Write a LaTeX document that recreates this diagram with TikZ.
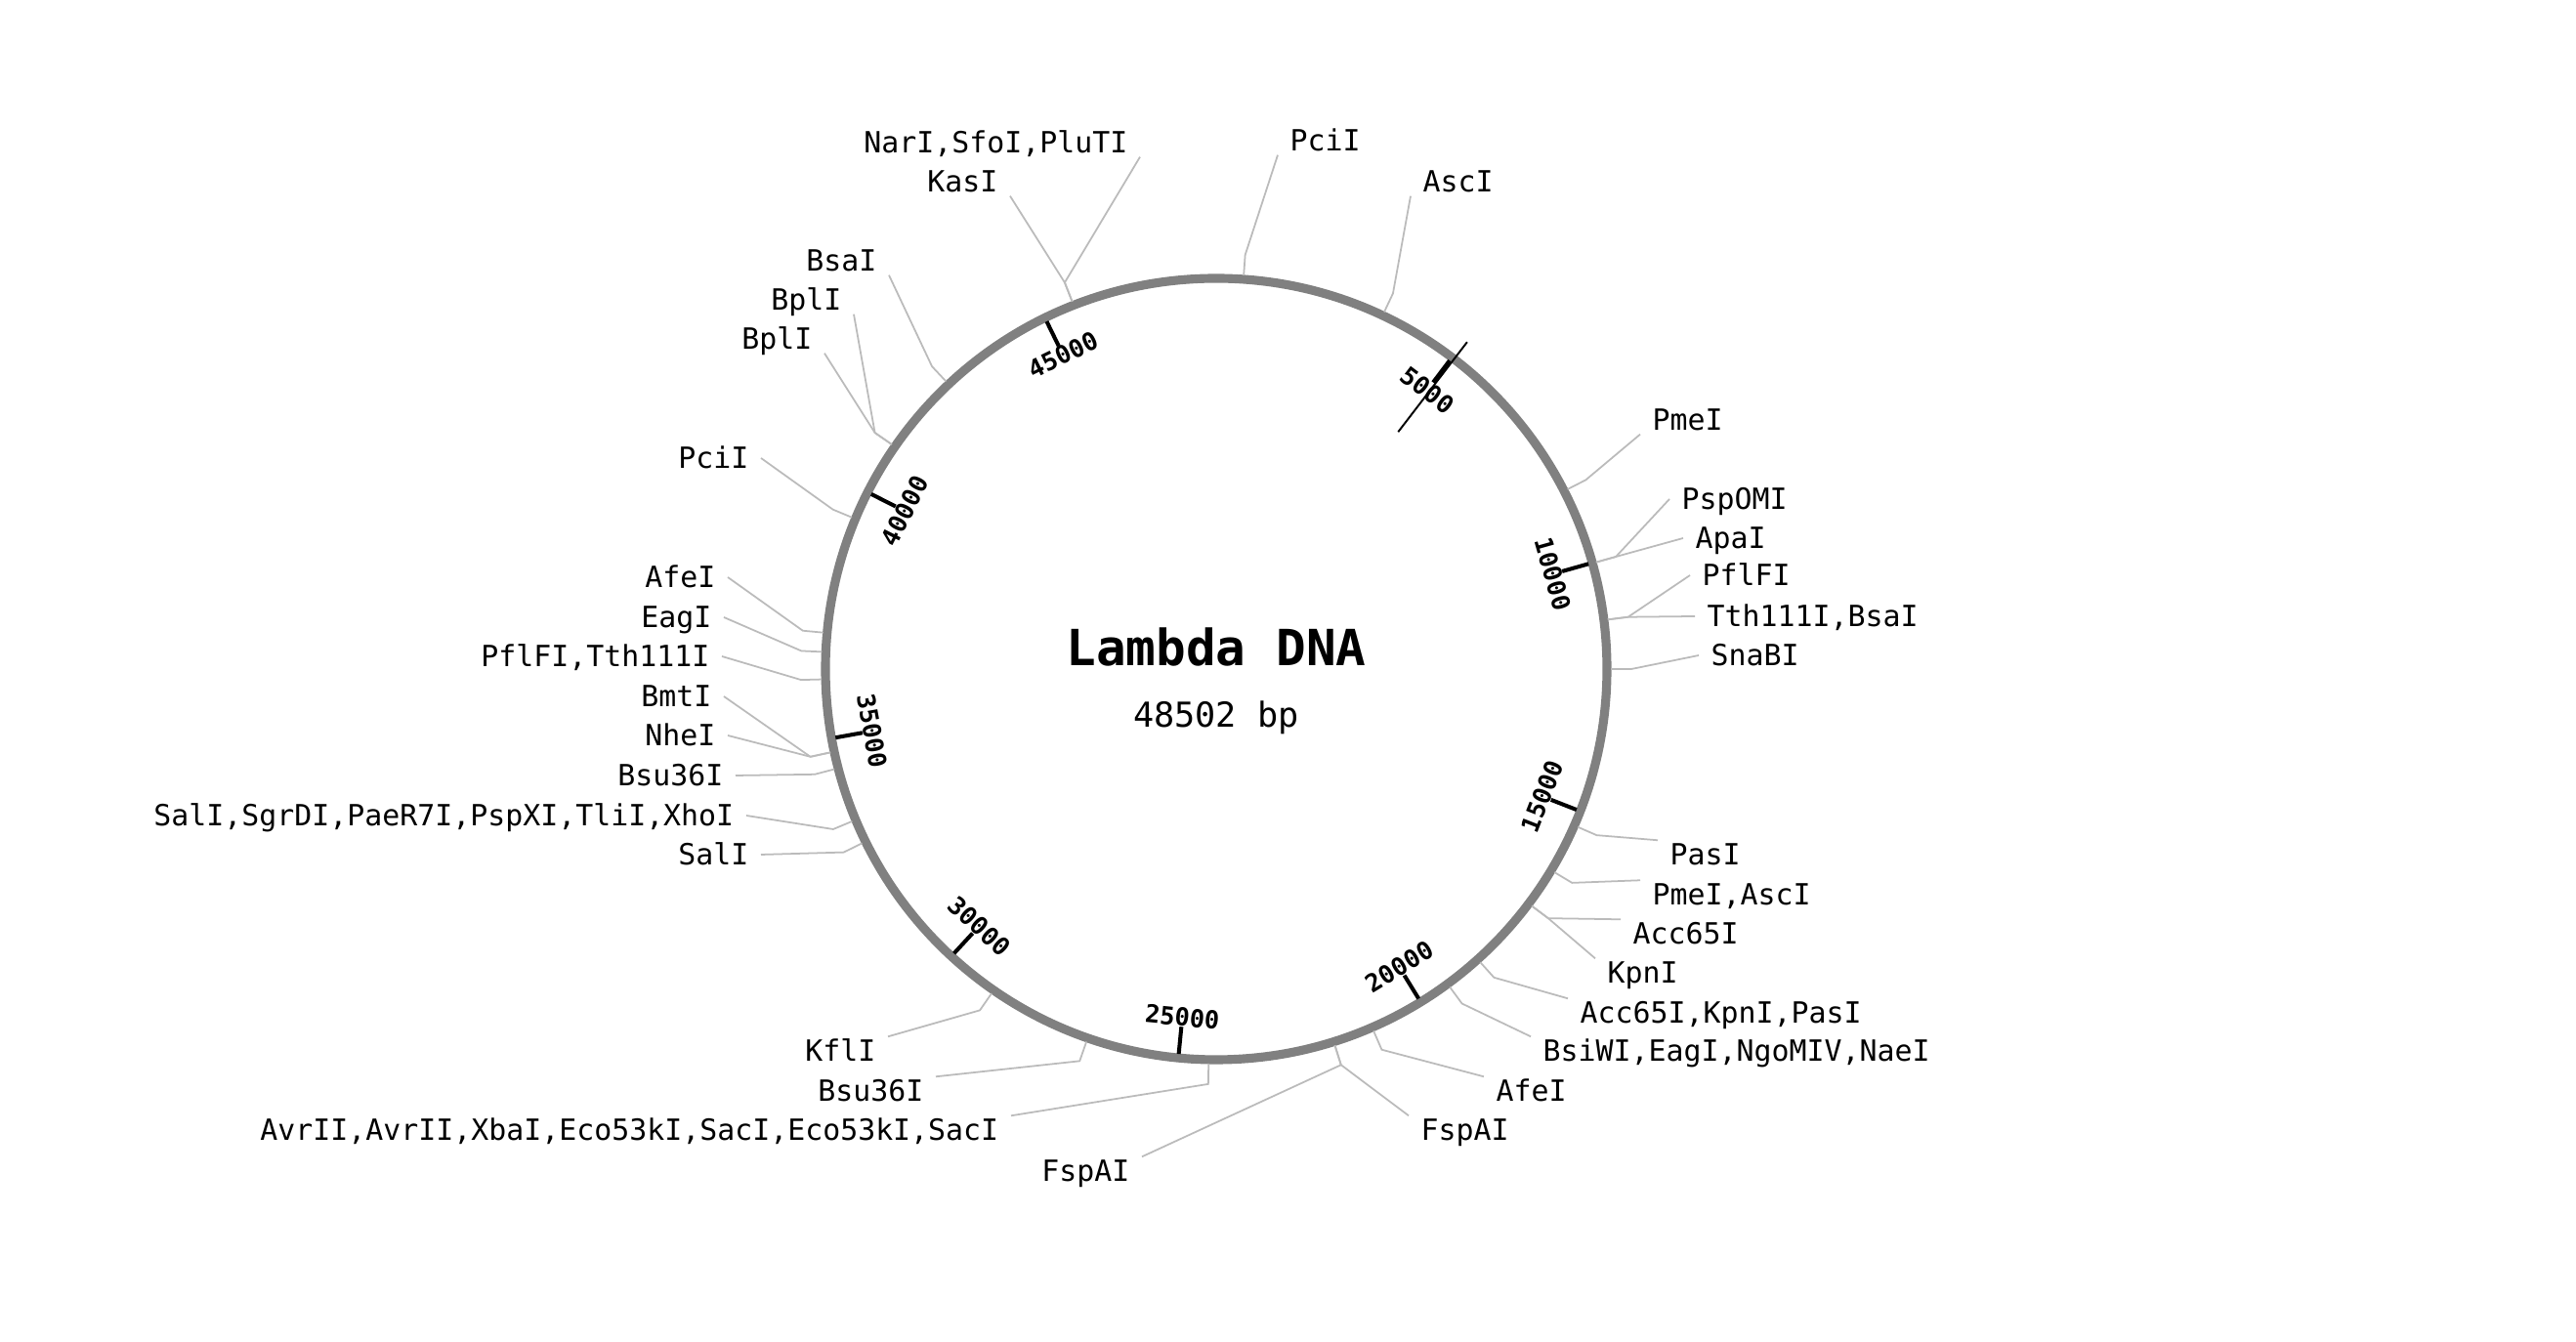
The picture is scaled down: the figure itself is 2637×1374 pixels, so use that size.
\documentclass[tikz,border=0pt]{standalone}
\usepackage{fontspec}
\setmonofont{DejaVu Sans Mono}
\usepackage{tikz}
\usepackage{xcolor}

\begin{document}
\begin{tikzpicture}[x=0.01cm,y=0.01cm,
  backbone/.style={draw=dnagrey,line width=2.6pt},
  leader/.style={draw=leadgrey,line width=0.5pt},
  tickmark/.style={draw=black,line width=1.15pt},
  sitelabel/.style={font=\fontsize{8.5}{10}\ttfamily,inner xsep=0.12cm,inner ysep=0.03cm,text height=0.22cm,text depth=0pt},
  ticklabel/.style={font=\fontsize{7.2}{8}\ttfamily\bfseries,inner sep=0pt}]
\definecolor{dnagrey}{HTML}{808080}
\definecolor{leadgrey}{HTML}{BBBBBB}
\useasboundingbox (-1245,-689) rectangle (1392,685);
\node[anchor=base] (title) at (0,3) {\fontsize{14.5}{17}\ttfamily\bfseries Lambda DNA};
\node[anchor=base] (size) at (0,-60) {\fontsize{10}{12}\ttfamily 48502 bp};
\draw[backbone] (0,0) circle (400);
% ticks every 5000 bp
\foreach \k in {1,...,9}
{ \pgfmathsetmacro\ang{90-\k*37.1119}
  \pgfmathsetmacro\rot{ifthenelse(or(\ang>0,\ang<-180),\ang-90,\ang+90)}
  \pgfmathtruncatemacro\kb{5*\k}
  \draw[tickmark] (\ang:368) -- (\ang:396);
  \node[ticklabel,rotate=\rot] (tick\k) at (\ang:358) {\kb000};}
\draw[line width=0.55pt] (52.5:306) -- (52.5:422);
% enzyme sites
\foreach \nm/\ang/\px/\py/\pa/\ca/\txt in {
  narsfo/111.4/-78/528/base east/south east/{NarI,SfoI,PluTI},
  kas/111.4/-211/488/base east/south east/KasI,
  pcitop/86/63/530/base west/south west/PciI,
  asc/64.8/199/488/base west/south west/AscI,
  bsa/133.2/-335/407/base east/south east/BsaI,
  bpla/145.3/-371/367/base east/south east/BplI,
  bplb/145.3/-401/327/base east/south east/BplI,
  pcileft/157.4/-466/205/base east/east/PciI,
  afeleft/174.7/-500/83/base east/east/AfeI,
  eag/177.5/-504/42/base east/east/EagI,
  pfltth/181.5/-506/2/base east/east/{PflFI,Tth111I},
  bmt/192.2/-504/-39/base east/east/BmtI,
  nhe/192.2/-500/-79/base east/east/NheI,
  bsuleft/194.7/-492/-120/base east/east/Bsu36I,
  salmany/202.7/-481/-161/base east/east/{SalI,SgrDI,PaeR7I,PspXI,TliI,XhoI},
  sal/206.2/-466/-201/base east/east/SalI,
  kfl/-124.7/-336/-402/base east/north east/KflI,
  bsubot/-109.2/-287/-443/base east/north east/Bsu36I,
  avr/-91.1/-210/-483/base east/north east/{AvrII,AvrII,XbaI,Eco53kI,SacI,Eco53kI,SacI},
  fspbot/-72.5/-76/-525/base east/north east/FspAI,
  fspright/-72.5/197/-483/base west/north west/FspAI,
  aferight/-66.5/274/-443/base west/north west/AfeI,
  bsiw/-53.7/322/-402/base west/north west/{BsiWI,EagI,NgoMIV,NaeI},
  acckpnpas/-48/360/-363/base west/north west/{Acc65I,KpnI,PasI},
  kpn/-36.9/388/-322/base west/north west/KpnI,
  acc/-36.9/414/-282/base west/north west/Acc65I,
  pmeasc/-31/434/-242/base west/north west/{PmeI,AscI},
  pas/-23.6/452/-201/base west/north west/PasI,
  sna/0/494/3/base west/west/SnaBI,
  tthbsa/7.2/490/43/base west/west/{Tth111I,BsaI},
  pfl/7.2/485/85/base west/west/PflFI,
  apa/15.7/478/123/base west/west/ApaI,
  psp/15.7/464/163/base west/west/PspOMI,
  pmetop/27.1/434/244/base west/south west/PmeI}
{ \coordinate (\nm-s) at (\ang:404);
  \coordinate (\nm-b) at (\ang:425);
  \node[sitelabel,anchor=\pa] (\nm) at (\px,\py) {\txt};
  \draw[leader] (\nm-s) -- (\nm-b) -- (\nm.\ca);}
\end{tikzpicture}
\end{document}
